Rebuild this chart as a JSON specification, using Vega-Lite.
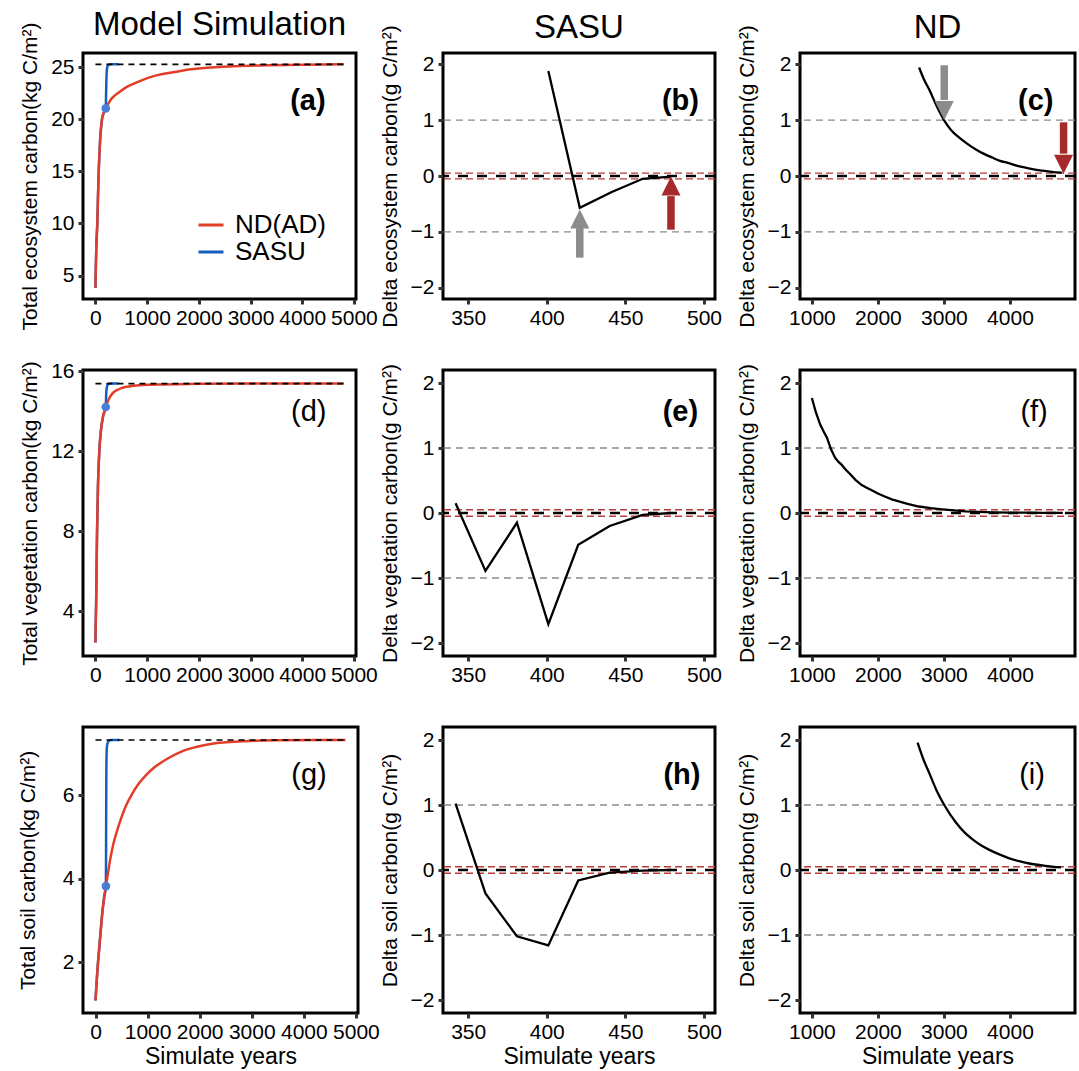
{
  "$schema": "https://vega.github.io/schema/vega-lite/v6.json",
  "padding": {"left": 15, "top": 7, "right": 5, "bottom": 3},
  "background": "white",
  "datasets": {
    "sim": [
      {"pool": "eco", "run": "ND(AD)", "year": 0, "value": 3.82},
      {"pool": "eco", "run": "ND(AD)", "year": 10, "value": 6.2},
      {"pool": "eco", "run": "ND(AD)", "year": 20, "value": 8.1},
      {"pool": "eco", "run": "ND(AD)", "year": 38, "value": 10.2},
      {"pool": "eco", "run": "ND(AD)", "year": 50, "value": 12.6},
      {"pool": "eco", "run": "ND(AD)", "year": 64, "value": 15.0},
      {"pool": "eco", "run": "ND(AD)", "year": 90, "value": 17.9},
      {"pool": "eco", "run": "ND(AD)", "year": 127, "value": 20.0},
      {"pool": "eco", "run": "ND(AD)", "year": 160, "value": 20.6},
      {"pool": "eco", "run": "ND(AD)", "year": 200, "value": 21.05},
      {"pool": "eco", "run": "ND(AD)", "year": 300, "value": 21.9},
      {"pool": "eco", "run": "ND(AD)", "year": 459, "value": 22.6},
      {"pool": "eco", "run": "ND(AD)", "year": 600, "value": 23.1},
      {"pool": "eco", "run": "ND(AD)", "year": 777, "value": 23.5},
      {"pool": "eco", "run": "ND(AD)", "year": 1096, "value": 24.1},
      {"pool": "eco", "run": "ND(AD)", "year": 1414, "value": 24.45},
      {"pool": "eco", "run": "ND(AD)", "year": 1700, "value": 24.7},
      {"pool": "eco", "run": "ND(AD)", "year": 2051, "value": 24.9},
      {"pool": "eco", "run": "ND(AD)", "year": 2688, "value": 25.1},
      {"pool": "eco", "run": "ND(AD)", "year": 3325, "value": 25.2},
      {"pool": "eco", "run": "ND(AD)", "year": 4000, "value": 25.25},
      {"pool": "eco", "run": "ND(AD)", "year": 4800, "value": 25.28},
      {"pool": "eco", "run": "SASU", "year": 0, "value": 3.82},
      {"pool": "eco", "run": "SASU", "year": 10, "value": 6.2},
      {"pool": "eco", "run": "SASU", "year": 20, "value": 8.1},
      {"pool": "eco", "run": "SASU", "year": 38, "value": 10.2},
      {"pool": "eco", "run": "SASU", "year": 50, "value": 12.6},
      {"pool": "eco", "run": "SASU", "year": 64, "value": 15.0},
      {"pool": "eco", "run": "SASU", "year": 90, "value": 17.9},
      {"pool": "eco", "run": "SASU", "year": 127, "value": 20.0},
      {"pool": "eco", "run": "SASU", "year": 160, "value": 20.6},
      {"pool": "eco", "run": "SASU", "year": 200, "value": 21.05},
      {"pool": "eco", "run": "SASU", "year": 208, "value": 22.8},
      {"pool": "eco", "run": "SASU", "year": 216, "value": 24.3},
      {"pool": "eco", "run": "SASU", "year": 228, "value": 25.0},
      {"pool": "eco", "run": "SASU", "year": 250, "value": 25.22},
      {"pool": "eco", "run": "SASU", "year": 290, "value": 25.28},
      {"pool": "eco", "run": "SASU", "year": 446, "value": 25.28},
      {"pool": "veg", "run": "ND(AD)", "year": 0, "value": 2.43},
      {"pool": "veg", "run": "ND(AD)", "year": 5, "value": 3.3},
      {"pool": "veg", "run": "ND(AD)", "year": 13, "value": 4.2},
      {"pool": "veg", "run": "ND(AD)", "year": 22, "value": 6.0},
      {"pool": "veg", "run": "ND(AD)", "year": 32, "value": 8.0},
      {"pool": "veg", "run": "ND(AD)", "year": 50, "value": 10.3},
      {"pool": "veg", "run": "ND(AD)", "year": 76, "value": 12.0},
      {"pool": "veg", "run": "ND(AD)", "year": 110, "value": 13.1},
      {"pool": "veg", "run": "ND(AD)", "year": 150, "value": 13.75},
      {"pool": "veg", "run": "ND(AD)", "year": 200, "value": 14.2},
      {"pool": "veg", "run": "ND(AD)", "year": 260, "value": 14.6},
      {"pool": "veg", "run": "ND(AD)", "year": 331, "value": 14.88},
      {"pool": "veg", "run": "ND(AD)", "year": 420, "value": 15.05},
      {"pool": "veg", "run": "ND(AD)", "year": 522, "value": 15.16},
      {"pool": "veg", "run": "ND(AD)", "year": 700, "value": 15.25},
      {"pool": "veg", "run": "ND(AD)", "year": 904, "value": 15.3},
      {"pool": "veg", "run": "ND(AD)", "year": 1300, "value": 15.33},
      {"pool": "veg", "run": "ND(AD)", "year": 2051, "value": 15.36},
      {"pool": "veg", "run": "ND(AD)", "year": 3000, "value": 15.37},
      {"pool": "veg", "run": "ND(AD)", "year": 4800, "value": 15.37},
      {"pool": "veg", "run": "SASU", "year": 0, "value": 2.43},
      {"pool": "veg", "run": "SASU", "year": 5, "value": 3.3},
      {"pool": "veg", "run": "SASU", "year": 13, "value": 4.2},
      {"pool": "veg", "run": "SASU", "year": 22, "value": 6.0},
      {"pool": "veg", "run": "SASU", "year": 32, "value": 8.0},
      {"pool": "veg", "run": "SASU", "year": 50, "value": 10.3},
      {"pool": "veg", "run": "SASU", "year": 76, "value": 12.0},
      {"pool": "veg", "run": "SASU", "year": 110, "value": 13.1},
      {"pool": "veg", "run": "SASU", "year": 150, "value": 13.75},
      {"pool": "veg", "run": "SASU", "year": 200, "value": 14.2},
      {"pool": "veg", "run": "SASU", "year": 208, "value": 14.8},
      {"pool": "veg", "run": "SASU", "year": 218, "value": 15.15},
      {"pool": "veg", "run": "SASU", "year": 240, "value": 15.32},
      {"pool": "veg", "run": "SASU", "year": 280, "value": 15.37},
      {"pool": "veg", "run": "SASU", "year": 446, "value": 15.37},
      {"pool": "soil", "run": "ND(AD)", "year": 0, "value": 1.09},
      {"pool": "soil", "run": "ND(AD)", "year": 20, "value": 1.5},
      {"pool": "soil", "run": "ND(AD)", "year": 45, "value": 1.95},
      {"pool": "soil", "run": "ND(AD)", "year": 73, "value": 2.36},
      {"pool": "soil", "run": "ND(AD)", "year": 104, "value": 2.82},
      {"pool": "soil", "run": "ND(AD)", "year": 134, "value": 3.23},
      {"pool": "soil", "run": "ND(AD)", "year": 165, "value": 3.55},
      {"pool": "soil", "run": "ND(AD)", "year": 200, "value": 3.83},
      {"pool": "soil", "run": "ND(AD)", "year": 240, "value": 4.15},
      {"pool": "soil", "run": "ND(AD)", "year": 287, "value": 4.5},
      {"pool": "soil", "run": "ND(AD)", "year": 345, "value": 4.85},
      {"pool": "soil", "run": "ND(AD)", "year": 408, "value": 5.13},
      {"pool": "soil", "run": "ND(AD)", "year": 500, "value": 5.48},
      {"pool": "soil", "run": "ND(AD)", "year": 591, "value": 5.77},
      {"pool": "soil", "run": "ND(AD)", "year": 700, "value": 6.03},
      {"pool": "soil", "run": "ND(AD)", "year": 835, "value": 6.29},
      {"pool": "soil", "run": "ND(AD)", "year": 980, "value": 6.5},
      {"pool": "soil", "run": "ND(AD)", "year": 1139, "value": 6.68},
      {"pool": "soil", "run": "ND(AD)", "year": 1380, "value": 6.88},
      {"pool": "soil", "run": "ND(AD)", "year": 1627, "value": 7.04},
      {"pool": "soil", "run": "ND(AD)", "year": 1930, "value": 7.16},
      {"pool": "soil", "run": "ND(AD)", "year": 2236, "value": 7.24},
      {"pool": "soil", "run": "ND(AD)", "year": 2846, "value": 7.3},
      {"pool": "soil", "run": "ND(AD)", "year": 3455, "value": 7.32},
      {"pool": "soil", "run": "ND(AD)", "year": 4800, "value": 7.33},
      {"pool": "soil", "run": "SASU", "year": 0, "value": 1.09},
      {"pool": "soil", "run": "SASU", "year": 20, "value": 1.5},
      {"pool": "soil", "run": "SASU", "year": 45, "value": 1.95},
      {"pool": "soil", "run": "SASU", "year": 73, "value": 2.36},
      {"pool": "soil", "run": "SASU", "year": 104, "value": 2.82},
      {"pool": "soil", "run": "SASU", "year": 134, "value": 3.23},
      {"pool": "soil", "run": "SASU", "year": 165, "value": 3.55},
      {"pool": "soil", "run": "SASU", "year": 200, "value": 3.83},
      {"pool": "soil", "run": "SASU", "year": 204, "value": 5.2},
      {"pool": "soil", "run": "SASU", "year": 208, "value": 6.5},
      {"pool": "soil", "run": "SASU", "year": 214, "value": 7.05},
      {"pool": "soil", "run": "SASU", "year": 225, "value": 7.22},
      {"pool": "soil", "run": "SASU", "year": 250, "value": 7.3},
      {"pool": "soil", "run": "SASU", "year": 300, "value": 7.33},
      {"pool": "soil", "run": "SASU", "year": 457, "value": 7.33}
    ],
    "ss": [
      {"pool": "eco", "year": 0, "year2": 4800, "value": 25.28},
      {"pool": "veg", "year": 0, "year2": 4800, "value": 15.37},
      {"pool": "soil", "year": 0, "year2": 4800, "value": 7.33}
    ],
    "spin": [
      {"pool": "eco", "year": 200, "value": 21.05},
      {"pool": "veg", "year": 200, "value": 14.2},
      {"pool": "soil", "year": 200, "value": 3.83}
    ],
    "lab": [
      {"panel": "a", "text": "(a)", "year": 4110, "value": 21.76},
      {"panel": "b", "text": "(b)", "year": 485, "value": 1.34},
      {"panel": "c", "text": "(c)", "year": 4390, "value": 1.34},
      {"panel": "d", "text": "(d)", "year": 4125, "value": 13.95},
      {"panel": "e", "text": "(e)", "year": 485, "value": 1.55},
      {"panel": "f", "text": "(f)", "year": 4365, "value": 1.55},
      {"panel": "g", "text": "(g)", "year": 4100, "value": 6.49},
      {"panel": "h", "text": "(h)", "year": 486, "value": 1.46},
      {"panel": "i", "text": "(i)", "year": 4335, "value": 1.46}
    ],
    "hl": [
      {"kind": "grey", "value": 1},
      {"kind": "grey", "value": -1},
      {"kind": "red", "value": 0.05},
      {"kind": "red", "value": -0.05},
      {"kind": "black", "value": 0}
    ],
    "arrows": [
      {"panel": "b", "stage": "first", "part": "shaft", "year": 421, "value": -1.46, "value2": -0.93},
      {"panel": "b", "stage": "first", "part": "head", "year": 421, "value": -0.6},
      {"panel": "b", "stage": "final", "part": "shaft", "year": 479, "value": -0.96, "value2": -0.36},
      {"panel": "b", "stage": "final", "part": "head", "year": 479, "value": -0.01},
      {"panel": "c", "stage": "first", "part": "shaft", "year": 3005, "value": 1.98, "value2": 1.36},
      {"panel": "c", "stage": "first", "part": "head", "year": 3005, "value": 1.0},
      {"panel": "c", "stage": "final", "part": "shaft", "year": 4812, "value": 0.96, "value2": 0.4},
      {"panel": "c", "stage": "final", "part": "head", "year": 4812, "value": 0.04}
    ],
    "delta": [
      {"panel": "b", "year": 401, "value": 1.88},
      {"panel": "b", "year": 421, "value": -0.57},
      {"panel": "b", "year": 441, "value": -0.29},
      {"panel": "b", "year": 461, "value": -0.05},
      {"panel": "b", "year": 479, "value": -0.01},
      {"panel": "c", "year": 2624, "value": 1.94},
      {"panel": "c", "year": 2700, "value": 1.72},
      {"panel": "c", "year": 2775, "value": 1.55},
      {"panel": "c", "year": 2890, "value": 1.25},
      {"panel": "c", "year": 3001, "value": 1.0},
      {"panel": "c", "year": 3110, "value": 0.82},
      {"panel": "c", "year": 3228, "value": 0.69},
      {"panel": "c", "year": 3350, "value": 0.58},
      {"panel": "c", "year": 3478, "value": 0.48},
      {"panel": "c", "year": 3600, "value": 0.4},
      {"panel": "c", "year": 3730, "value": 0.33},
      {"panel": "c", "year": 3850, "value": 0.27},
      {"panel": "c", "year": 3982, "value": 0.23},
      {"panel": "c", "year": 4100, "value": 0.185},
      {"panel": "c", "year": 4232, "value": 0.15},
      {"panel": "c", "year": 4360, "value": 0.12},
      {"panel": "c", "year": 4484, "value": 0.096},
      {"panel": "c", "year": 4630, "value": 0.075},
      {"panel": "c", "year": 4786, "value": 0.06},
      {"panel": "e", "year": 342, "value": 0.15},
      {"panel": "e", "year": 361, "value": -0.89},
      {"panel": "e", "year": 381, "value": -0.15},
      {"panel": "e", "year": 401, "value": -1.71},
      {"panel": "e", "year": 420, "value": -0.49},
      {"panel": "e", "year": 440, "value": -0.2},
      {"panel": "e", "year": 461, "value": -0.03},
      {"panel": "e", "year": 479, "value": 0.0},
      {"panel": "f", "year": 1000, "value": 1.77},
      {"panel": "f", "year": 1060, "value": 1.55},
      {"panel": "f", "year": 1126, "value": 1.36},
      {"panel": "f", "year": 1180, "value": 1.25},
      {"panel": "f", "year": 1228, "value": 1.16},
      {"panel": "f", "year": 1290, "value": 0.98},
      {"panel": "f", "year": 1351, "value": 0.85},
      {"panel": "f", "year": 1400, "value": 0.79},
      {"panel": "f", "year": 1452, "value": 0.74},
      {"panel": "f", "year": 1510, "value": 0.67},
      {"panel": "f", "year": 1578, "value": 0.6},
      {"panel": "f", "year": 1660, "value": 0.51},
      {"panel": "f", "year": 1755, "value": 0.43},
      {"panel": "f", "year": 1830, "value": 0.39},
      {"panel": "f", "year": 1907, "value": 0.35},
      {"panel": "f", "year": 2000, "value": 0.3},
      {"panel": "f", "year": 2113, "value": 0.25},
      {"panel": "f", "year": 2210, "value": 0.21},
      {"panel": "f", "year": 2315, "value": 0.18},
      {"panel": "f", "year": 2450, "value": 0.14},
      {"panel": "f", "year": 2619, "value": 0.1},
      {"panel": "f", "year": 2800, "value": 0.075},
      {"panel": "f", "year": 2973, "value": 0.056},
      {"panel": "f", "year": 3150, "value": 0.04},
      {"panel": "f", "year": 3327, "value": 0.025},
      {"panel": "f", "year": 3530, "value": 0.016},
      {"panel": "f", "year": 3731, "value": 0.01},
      {"panel": "f", "year": 4000, "value": 0.007},
      {"panel": "f", "year": 4237, "value": 0.005},
      {"panel": "f", "year": 4500, "value": 0.003},
      {"panel": "f", "year": 4800, "value": 0.002},
      {"panel": "h", "year": 342, "value": 1.02},
      {"panel": "h", "year": 361, "value": -0.36},
      {"panel": "h", "year": 381, "value": -1.02},
      {"panel": "h", "year": 401, "value": -1.16},
      {"panel": "h", "year": 420, "value": -0.16},
      {"panel": "h", "year": 440, "value": -0.04},
      {"panel": "h", "year": 461, "value": -0.01},
      {"panel": "h", "year": 479, "value": 0.0},
      {"panel": "i", "year": 2601, "value": 1.96},
      {"panel": "i", "year": 2690, "value": 1.7},
      {"panel": "i", "year": 2778, "value": 1.49},
      {"panel": "i", "year": 2890, "value": 1.22},
      {"panel": "i", "year": 3005, "value": 1.0},
      {"panel": "i", "year": 3182, "value": 0.73},
      {"panel": "i", "year": 3300, "value": 0.59},
      {"panel": "i", "year": 3434, "value": 0.47},
      {"panel": "i", "year": 3560, "value": 0.38},
      {"panel": "i", "year": 3687, "value": 0.31},
      {"panel": "i", "year": 3840, "value": 0.24},
      {"panel": "i", "year": 3990, "value": 0.18},
      {"panel": "i", "year": 4140, "value": 0.135},
      {"panel": "i", "year": 4293, "value": 0.1},
      {"panel": "i", "year": 4530, "value": 0.065},
      {"panel": "i", "year": 4773, "value": 0.04}
    ]
  },
  "columns": 3,
  "spacing": {"row": 71, "column": 85},
  "bounds": "flush",
  "align": "each",
  "concat": [
    {
      "width": 273, "height": 246,
      "title": {"text": "Model Simulation"},
      "layer": [
        {"data": {"name": "sim"}, "transform": [{"filter": "datum.pool === 'eco' && datum.run === 'SASU'"}],
         "mark": {"type": "line", "strokeWidth": 2.5, "interpolate": "monotone"},
         "encoding": {
           "x": {"field": "year", "type": "quantitative", "title": null, "scale": {"domain": [-240, 5040], "nice": false, "zero": false}, "axis": {"values": [0, 1000, 2000, 3000, 4000, 5000], "format": "d"}},
           "y": {"field": "value", "type": "quantitative", "title": "Total ecosystem carbon(kg C/m²)", "scale": {"domain": [2.75, 26.37], "nice": false, "zero": false}, "axis": {"values": [5, 10, 15, 20, 25], "format": "d"}},
           "color": {"field": "run", "type": "nominal", "scale": {"domain": ["ND(AD)", "SASU"], "range": ["#E23D28", "#145FBE"]},
             "legend": {"orient": "none", "legendX": 114, "legendY": 158, "title": null, "symbolType": "stroke", "symbolSize": 625, "symbolStrokeWidth": 3, "labelFontSize": 26, "labelOffset": 10, "rowPadding": -5, "padding": 0, "labelColor": "black"}}
         }},
        {"data": {"name": "sim"}, "transform": [{"filter": "datum.pool === 'eco' && datum.run === 'ND(AD)'"}],
         "mark": {"type": "line", "strokeWidth": 2.5, "interpolate": "monotone"},
         "encoding": {
           "x": {"field": "year", "type": "quantitative", "title": null, "scale": {"domain": [-240, 5040], "nice": false, "zero": false}, "axis": {"values": [0, 1000, 2000, 3000, 4000, 5000], "format": "d"}},
           "y": {"field": "value", "type": "quantitative", "title": "Total ecosystem carbon(kg C/m²)", "scale": {"domain": [2.75, 26.37], "nice": false, "zero": false}, "axis": {"values": [5, 10, 15, 20, 25], "format": "d"}},
           "color": {"field": "run", "type": "nominal", "scale": {"domain": ["ND(AD)", "SASU"], "range": ["#E23D28", "#145FBE"]},
             "legend": {"orient": "none", "legendX": 114, "legendY": 158, "title": null, "symbolType": "stroke", "symbolSize": 625, "symbolStrokeWidth": 3, "labelFontSize": 26, "labelOffset": 10, "rowPadding": -5, "padding": 0, "labelColor": "black"}}
         }},
        {"data": {"name": "ss"}, "transform": [{"filter": "datum.pool === 'eco'"}],
         "mark": {"type": "rule", "color": "black", "strokeWidth": 1.6, "strokeDash": [6, 5]},
         "encoding": {
           "x": {"field": "year", "type": "quantitative", "title": null, "scale": {"domain": [-240, 5040], "nice": false, "zero": false}, "axis": {"values": [0, 1000, 2000, 3000, 4000, 5000], "format": "d"}},
           "x2": {"field": "year2"},
           "y": {"field": "value", "type": "quantitative", "title": "Total ecosystem carbon(kg C/m²)", "scale": {"domain": [2.75, 26.37], "nice": false, "zero": false}, "axis": {"values": [5, 10, 15, 20, 25], "format": "d"}}
         }},
        {"data": {"name": "spin"}, "transform": [{"filter": "datum.pool === 'eco'"}],
         "mark": {"type": "point", "shape": "circle", "filled": true, "size": 75, "color": "#4A7DD6", "opacity": 1},
         "encoding": {
           "x": {"field": "year", "type": "quantitative", "title": null, "scale": {"domain": [-240, 5040], "nice": false, "zero": false}, "axis": {"values": [0, 1000, 2000, 3000, 4000, 5000], "format": "d"}},
           "y": {"field": "value", "type": "quantitative", "title": "Total ecosystem carbon(kg C/m²)", "scale": {"domain": [2.75, 26.37], "nice": false, "zero": false}, "axis": {"values": [5, 10, 15, 20, 25], "format": "d"}}
         }},
        {"data": {"name": "lab"}, "transform": [{"filter": "datum.panel === 'a'"}],
         "mark": {"type": "text", "fontSize": 29, "fontWeight": "bold", "color": "black", "align": "center", "baseline": "middle"},
         "encoding": {
           "x": {"field": "year", "type": "quantitative", "title": null, "scale": {"domain": [-240, 5040], "nice": false, "zero": false}, "axis": {"values": [0, 1000, 2000, 3000, 4000, 5000], "format": "d"}},
           "y": {"field": "value", "type": "quantitative", "title": "Total ecosystem carbon(kg C/m²)", "scale": {"domain": [2.75, 26.37], "nice": false, "zero": false}, "axis": {"values": [5, 10, 15, 20, 25], "format": "d"}},
           "text": {"field": "text"}
         }}
      ]
    },
    {
      "width": 272, "height": 246,
      "title": {"text": "SASU"},
      "layer": [
        {"data": {"name": "hl"}, "transform": [{"filter": "datum.kind === 'grey'"}],
         "mark": {"type": "rule", "color": "#8c8c8c", "strokeWidth": 1.3, "strokeDash": [7, 5]},
         "encoding": {"y": {"field": "value", "type": "quantitative", "title": "Delta ecosystem carbon(g C/m²)", "scale": {"domain": [-2.2, 2.2], "nice": false, "zero": false}, "axis": {"values": [-2, -1, 0, 1, 2], "format": "d"}}}},
        {"data": {"name": "hl"}, "transform": [{"filter": "datum.kind === 'red'"}],
         "mark": {"type": "rule", "color": "#B83A3A", "strokeWidth": 1.3, "strokeDash": [7, 4]},
         "encoding": {"y": {"field": "value", "type": "quantitative", "title": "Delta ecosystem carbon(g C/m²)", "scale": {"domain": [-2.2, 2.2], "nice": false, "zero": false}, "axis": {"values": [-2, -1, 0, 1, 2], "format": "d"}}}},
        {"data": {"name": "hl"}, "transform": [{"filter": "datum.kind === 'black'"}],
         "mark": {"type": "rule", "color": "black", "strokeWidth": 2.4, "strokeDash": [10, 9]},
         "encoding": {"y": {"field": "value", "type": "quantitative", "title": "Delta ecosystem carbon(g C/m²)", "scale": {"domain": [-2.2, 2.2], "nice": false, "zero": false}, "axis": {"values": [-2, -1, 0, 1, 2], "format": "d"}}}},
        {"data": {"name": "delta"}, "transform": [{"filter": "datum.panel === 'b'"}],
         "mark": {"type": "line", "color": "black", "strokeWidth": 2.3},
         "encoding": {
           "x": {"field": "year", "type": "quantitative", "title": null, "scale": {"domain": [334, 507], "nice": false, "zero": false}, "axis": {"values": [350, 400, 450, 500], "format": "d"}},
           "y": {"field": "value", "type": "quantitative", "title": "Delta ecosystem carbon(g C/m²)", "scale": {"domain": [-2.2, 2.2], "nice": false, "zero": false}, "axis": {"values": [-2, -1, 0, 1, 2], "format": "d"}}
         }},
        {"data": {"name": "arrows"}, "transform": [{"filter": "datum.panel === 'b' && datum.part === 'shaft' && datum.stage === 'first'"}],
         "mark": {"type": "rule", "strokeWidth": 7.5, "color": "#8c8c8c"},
         "encoding": {
           "x": {"field": "year", "type": "quantitative", "title": null, "scale": {"domain": [334, 507], "nice": false, "zero": false}, "axis": {"values": [350, 400, 450, 500], "format": "d"}},
           "y": {"field": "value", "type": "quantitative", "title": "Delta ecosystem carbon(g C/m²)", "scale": {"domain": [-2.2, 2.2], "nice": false, "zero": false}, "axis": {"values": [-2, -1, 0, 1, 2], "format": "d"}},
           "y2": {"field": "value2"}
         }},
        {"data": {"name": "arrows"}, "transform": [{"filter": "datum.panel === 'b' && datum.part === 'shaft' && datum.stage === 'final'"}],
         "mark": {"type": "rule", "strokeWidth": 7.5, "color": "#A52A2A"},
         "encoding": {
           "x": {"field": "year", "type": "quantitative", "title": null, "scale": {"domain": [334, 507], "nice": false, "zero": false}, "axis": {"values": [350, 400, 450, 500], "format": "d"}},
           "y": {"field": "value", "type": "quantitative", "title": "Delta ecosystem carbon(g C/m²)", "scale": {"domain": [-2.2, 2.2], "nice": false, "zero": false}, "axis": {"values": [-2, -1, 0, 1, 2], "format": "d"}},
           "y2": {"field": "value2"}
         }},
        {"data": {"name": "arrows"}, "transform": [{"filter": "datum.panel === 'b' && datum.part === 'head' && datum.stage === 'first'"}],
         "mark": {"type": "point", "shape": "M0,0L-1,2L1,2Z", "filled": true, "size": 361, "opacity": 1, "color": "#8c8c8c"},
         "encoding": {
           "x": {"field": "year", "type": "quantitative", "title": null, "scale": {"domain": [334, 507], "nice": false, "zero": false}, "axis": {"values": [350, 400, 450, 500], "format": "d"}},
           "y": {"field": "value", "type": "quantitative", "title": "Delta ecosystem carbon(g C/m²)", "scale": {"domain": [-2.2, 2.2], "nice": false, "zero": false}, "axis": {"values": [-2, -1, 0, 1, 2], "format": "d"}}
         }},
        {"data": {"name": "arrows"}, "transform": [{"filter": "datum.panel === 'b' && datum.part === 'head' && datum.stage === 'final'"}],
         "mark": {"type": "point", "shape": "M0,0L-1,2L1,2Z", "filled": true, "size": 361, "opacity": 1, "color": "#A52A2A"},
         "encoding": {
           "x": {"field": "year", "type": "quantitative", "title": null, "scale": {"domain": [334, 507], "nice": false, "zero": false}, "axis": {"values": [350, 400, 450, 500], "format": "d"}},
           "y": {"field": "value", "type": "quantitative", "title": "Delta ecosystem carbon(g C/m²)", "scale": {"domain": [-2.2, 2.2], "nice": false, "zero": false}, "axis": {"values": [-2, -1, 0, 1, 2], "format": "d"}}
         }},
        {"data": {"name": "lab"}, "transform": [{"filter": "datum.panel === 'b'"}],
         "mark": {"type": "text", "fontSize": 29, "fontWeight": "bold", "color": "black", "align": "center", "baseline": "middle"},
         "encoding": {
           "x": {"field": "year", "type": "quantitative", "title": null, "scale": {"domain": [334, 507], "nice": false, "zero": false}, "axis": {"values": [350, 400, 450, 500], "format": "d"}},
           "y": {"field": "value", "type": "quantitative", "title": "Delta ecosystem carbon(g C/m²)", "scale": {"domain": [-2.2, 2.2], "nice": false, "zero": false}, "axis": {"values": [-2, -1, 0, 1, 2], "format": "d"}},
           "text": {"field": "text"}
         }}
      ]
    },
    {
      "width": 275, "height": 246,
      "title": {"text": "ND"},
      "layer": [
        {"data": {"name": "hl"}, "transform": [{"filter": "datum.kind === 'grey'"}],
         "mark": {"type": "rule", "color": "#8c8c8c", "strokeWidth": 1.3, "strokeDash": [7, 5]},
         "encoding": {"y": {"field": "value", "type": "quantitative", "title": "Delta ecosystem carbon(g C/m²)", "scale": {"domain": [-2.2, 2.2], "nice": false, "zero": false}, "axis": {"values": [-2, -1, 0, 1, 2], "format": "d"}}}},
        {"data": {"name": "hl"}, "transform": [{"filter": "datum.kind === 'red'"}],
         "mark": {"type": "rule", "color": "#B83A3A", "strokeWidth": 1.3, "strokeDash": [7, 4]},
         "encoding": {"y": {"field": "value", "type": "quantitative", "title": "Delta ecosystem carbon(g C/m²)", "scale": {"domain": [-2.2, 2.2], "nice": false, "zero": false}, "axis": {"values": [-2, -1, 0, 1, 2], "format": "d"}}}},
        {"data": {"name": "hl"}, "transform": [{"filter": "datum.kind === 'black'"}],
         "mark": {"type": "rule", "color": "black", "strokeWidth": 2.4, "strokeDash": [10, 9]},
         "encoding": {"y": {"field": "value", "type": "quantitative", "title": "Delta ecosystem carbon(g C/m²)", "scale": {"domain": [-2.2, 2.2], "nice": false, "zero": false}, "axis": {"values": [-2, -1, 0, 1, 2], "format": "d"}}}},
        {"data": {"name": "delta"}, "transform": [{"filter": "datum.panel === 'c'"}],
         "mark": {"type": "line", "color": "black", "strokeWidth": 2.3, "interpolate": "monotone"},
         "encoding": {
           "x": {"field": "year", "type": "quantitative", "title": null, "scale": {"domain": [820, 4985], "nice": false, "zero": false}, "axis": {"values": [1000, 2000, 3000, 4000], "format": "d"}},
           "y": {"field": "value", "type": "quantitative", "title": "Delta ecosystem carbon(g C/m²)", "scale": {"domain": [-2.2, 2.2], "nice": false, "zero": false}, "axis": {"values": [-2, -1, 0, 1, 2], "format": "d"}}
         }},
        {"data": {"name": "arrows"}, "transform": [{"filter": "datum.panel === 'c' && datum.part === 'shaft' && datum.stage === 'first'"}],
         "mark": {"type": "rule", "strokeWidth": 7.5, "color": "#8c8c8c"},
         "encoding": {
           "x": {"field": "year", "type": "quantitative", "title": null, "scale": {"domain": [820, 4985], "nice": false, "zero": false}, "axis": {"values": [1000, 2000, 3000, 4000], "format": "d"}},
           "y": {"field": "value", "type": "quantitative", "title": "Delta ecosystem carbon(g C/m²)", "scale": {"domain": [-2.2, 2.2], "nice": false, "zero": false}, "axis": {"values": [-2, -1, 0, 1, 2], "format": "d"}},
           "y2": {"field": "value2"}
         }},
        {"data": {"name": "arrows"}, "transform": [{"filter": "datum.panel === 'c' && datum.part === 'shaft' && datum.stage === 'final'"}],
         "mark": {"type": "rule", "strokeWidth": 7.5, "color": "#A52A2A"},
         "encoding": {
           "x": {"field": "year", "type": "quantitative", "title": null, "scale": {"domain": [820, 4985], "nice": false, "zero": false}, "axis": {"values": [1000, 2000, 3000, 4000], "format": "d"}},
           "y": {"field": "value", "type": "quantitative", "title": "Delta ecosystem carbon(g C/m²)", "scale": {"domain": [-2.2, 2.2], "nice": false, "zero": false}, "axis": {"values": [-2, -1, 0, 1, 2], "format": "d"}},
           "y2": {"field": "value2"}
         }},
        {"data": {"name": "arrows"}, "transform": [{"filter": "datum.panel === 'c' && datum.part === 'head' && datum.stage === 'first'"}],
         "mark": {"type": "point", "shape": "M0,0L-1,-2L1,-2Z", "filled": true, "size": 361, "opacity": 1, "color": "#8c8c8c"},
         "encoding": {
           "x": {"field": "year", "type": "quantitative", "title": null, "scale": {"domain": [820, 4985], "nice": false, "zero": false}, "axis": {"values": [1000, 2000, 3000, 4000], "format": "d"}},
           "y": {"field": "value", "type": "quantitative", "title": "Delta ecosystem carbon(g C/m²)", "scale": {"domain": [-2.2, 2.2], "nice": false, "zero": false}, "axis": {"values": [-2, -1, 0, 1, 2], "format": "d"}}
         }},
        {"data": {"name": "arrows"}, "transform": [{"filter": "datum.panel === 'c' && datum.part === 'head' && datum.stage === 'final'"}],
         "mark": {"type": "point", "shape": "M0,0L-1,-2L1,-2Z", "filled": true, "size": 361, "opacity": 1, "color": "#A52A2A"},
         "encoding": {
           "x": {"field": "year", "type": "quantitative", "title": null, "scale": {"domain": [820, 4985], "nice": false, "zero": false}, "axis": {"values": [1000, 2000, 3000, 4000], "format": "d"}},
           "y": {"field": "value", "type": "quantitative", "title": "Delta ecosystem carbon(g C/m²)", "scale": {"domain": [-2.2, 2.2], "nice": false, "zero": false}, "axis": {"values": [-2, -1, 0, 1, 2], "format": "d"}}
         }},
        {"data": {"name": "lab"}, "transform": [{"filter": "datum.panel === 'c'"}],
         "mark": {"type": "text", "fontSize": 29, "fontWeight": "bold", "color": "black", "align": "center", "baseline": "middle"},
         "encoding": {
           "x": {"field": "year", "type": "quantitative", "title": null, "scale": {"domain": [820, 4985], "nice": false, "zero": false}, "axis": {"values": [1000, 2000, 3000, 4000], "format": "d"}},
           "y": {"field": "value", "type": "quantitative", "title": "Delta ecosystem carbon(g C/m²)", "scale": {"domain": [-2.2, 2.2], "nice": false, "zero": false}, "axis": {"values": [-2, -1, 0, 1, 2], "format": "d"}},
           "text": {"field": "text"}
         }}
      ]
    },
    {
      "width": 273, "height": 286,
      "layer": [
        {"data": {"name": "sim"}, "transform": [{"filter": "datum.pool === 'veg' && datum.run === 'SASU'"}],
         "mark": {"type": "line", "strokeWidth": 2.5, "interpolate": "monotone"},
         "encoding": {
           "x": {"field": "year", "type": "quantitative", "title": null, "scale": {"domain": [-240, 5040], "nice": false, "zero": false}, "axis": {"values": [0, 1000, 2000, 3000, 4000, 5000], "format": "d"}},
           "y": {"field": "value", "type": "quantitative", "title": "Total vegetation carbon(kg C/m²)", "scale": {"domain": [1.75, 16.05], "nice": false, "zero": false}, "axis": {"values": [4, 8, 12, 16], "format": "d"}},
           "color": {"field": "run", "type": "nominal", "scale": {"domain": ["ND(AD)", "SASU"], "range": ["#E23D28", "#145FBE"]}, "legend": null}
         }},
        {"data": {"name": "sim"}, "transform": [{"filter": "datum.pool === 'veg' && datum.run === 'ND(AD)'"}],
         "mark": {"type": "line", "strokeWidth": 2.5, "interpolate": "monotone"},
         "encoding": {
           "x": {"field": "year", "type": "quantitative", "title": null, "scale": {"domain": [-240, 5040], "nice": false, "zero": false}, "axis": {"values": [0, 1000, 2000, 3000, 4000, 5000], "format": "d"}},
           "y": {"field": "value", "type": "quantitative", "title": "Total vegetation carbon(kg C/m²)", "scale": {"domain": [1.75, 16.05], "nice": false, "zero": false}, "axis": {"values": [4, 8, 12, 16], "format": "d"}},
           "color": {"field": "run", "type": "nominal", "scale": {"domain": ["ND(AD)", "SASU"], "range": ["#E23D28", "#145FBE"]}, "legend": null}
         }},
        {"data": {"name": "ss"}, "transform": [{"filter": "datum.pool === 'veg'"}],
         "mark": {"type": "rule", "color": "black", "strokeWidth": 1.6, "strokeDash": [6, 5]},
         "encoding": {
           "x": {"field": "year", "type": "quantitative", "title": null, "scale": {"domain": [-240, 5040], "nice": false, "zero": false}, "axis": {"values": [0, 1000, 2000, 3000, 4000, 5000], "format": "d"}},
           "x2": {"field": "year2"},
           "y": {"field": "value", "type": "quantitative", "title": "Total vegetation carbon(kg C/m²)", "scale": {"domain": [1.75, 16.05], "nice": false, "zero": false}, "axis": {"values": [4, 8, 12, 16], "format": "d"}}
         }},
        {"data": {"name": "spin"}, "transform": [{"filter": "datum.pool === 'veg'"}],
         "mark": {"type": "point", "shape": "circle", "filled": true, "size": 75, "color": "#4A7DD6", "opacity": 1},
         "encoding": {
           "x": {"field": "year", "type": "quantitative", "title": null, "scale": {"domain": [-240, 5040], "nice": false, "zero": false}, "axis": {"values": [0, 1000, 2000, 3000, 4000, 5000], "format": "d"}},
           "y": {"field": "value", "type": "quantitative", "title": "Total vegetation carbon(kg C/m²)", "scale": {"domain": [1.75, 16.05], "nice": false, "zero": false}, "axis": {"values": [4, 8, 12, 16], "format": "d"}}
         }},
        {"data": {"name": "lab"}, "transform": [{"filter": "datum.panel === 'd'"}],
         "mark": {"type": "text", "fontSize": 29, "fontWeight": "normal", "color": "black", "align": "center", "baseline": "middle"},
         "encoding": {
           "x": {"field": "year", "type": "quantitative", "title": null, "scale": {"domain": [-240, 5040], "nice": false, "zero": false}, "axis": {"values": [0, 1000, 2000, 3000, 4000, 5000], "format": "d"}},
           "y": {"field": "value", "type": "quantitative", "title": "Total vegetation carbon(kg C/m²)", "scale": {"domain": [1.75, 16.05], "nice": false, "zero": false}, "axis": {"values": [4, 8, 12, 16], "format": "d"}},
           "text": {"field": "text"}
         }}
      ]
    },
    {
      "width": 272, "height": 286,
      "layer": [
        {"data": {"name": "hl"}, "transform": [{"filter": "datum.kind === 'grey'"}],
         "mark": {"type": "rule", "color": "#8c8c8c", "strokeWidth": 1.3, "strokeDash": [7, 5]},
         "encoding": {"y": {"field": "value", "type": "quantitative", "title": "Delta vegetation carbon(g C/m²)", "scale": {"domain": [-2.2, 2.2], "nice": false, "zero": false}, "axis": {"values": [-2, -1, 0, 1, 2], "format": "d"}}}},
        {"data": {"name": "hl"}, "transform": [{"filter": "datum.kind === 'red'"}],
         "mark": {"type": "rule", "color": "#B83A3A", "strokeWidth": 1.3, "strokeDash": [7, 4]},
         "encoding": {"y": {"field": "value", "type": "quantitative", "title": "Delta vegetation carbon(g C/m²)", "scale": {"domain": [-2.2, 2.2], "nice": false, "zero": false}, "axis": {"values": [-2, -1, 0, 1, 2], "format": "d"}}}},
        {"data": {"name": "hl"}, "transform": [{"filter": "datum.kind === 'black'"}],
         "mark": {"type": "rule", "color": "black", "strokeWidth": 2.4, "strokeDash": [10, 9]},
         "encoding": {"y": {"field": "value", "type": "quantitative", "title": "Delta vegetation carbon(g C/m²)", "scale": {"domain": [-2.2, 2.2], "nice": false, "zero": false}, "axis": {"values": [-2, -1, 0, 1, 2], "format": "d"}}}},
        {"data": {"name": "delta"}, "transform": [{"filter": "datum.panel === 'e'"}],
         "mark": {"type": "line", "color": "black", "strokeWidth": 2.3},
         "encoding": {
           "x": {"field": "year", "type": "quantitative", "title": null, "scale": {"domain": [334, 507], "nice": false, "zero": false}, "axis": {"values": [350, 400, 450, 500], "format": "d"}},
           "y": {"field": "value", "type": "quantitative", "title": "Delta vegetation carbon(g C/m²)", "scale": {"domain": [-2.2, 2.2], "nice": false, "zero": false}, "axis": {"values": [-2, -1, 0, 1, 2], "format": "d"}}
         }},
        {"data": {"name": "lab"}, "transform": [{"filter": "datum.panel === 'e'"}],
         "mark": {"type": "text", "fontSize": 29, "fontWeight": "bold", "color": "black", "align": "center", "baseline": "middle"},
         "encoding": {
           "x": {"field": "year", "type": "quantitative", "title": null, "scale": {"domain": [334, 507], "nice": false, "zero": false}, "axis": {"values": [350, 400, 450, 500], "format": "d"}},
           "y": {"field": "value", "type": "quantitative", "title": "Delta vegetation carbon(g C/m²)", "scale": {"domain": [-2.2, 2.2], "nice": false, "zero": false}, "axis": {"values": [-2, -1, 0, 1, 2], "format": "d"}},
           "text": {"field": "text"}
         }}
      ]
    },
    {
      "width": 275, "height": 286,
      "layer": [
        {"data": {"name": "hl"}, "transform": [{"filter": "datum.kind === 'grey'"}],
         "mark": {"type": "rule", "color": "#8c8c8c", "strokeWidth": 1.3, "strokeDash": [7, 5]},
         "encoding": {"y": {"field": "value", "type": "quantitative", "title": "Delta vegetation carbon(g C/m²)", "scale": {"domain": [-2.2, 2.2], "nice": false, "zero": false}, "axis": {"values": [-2, -1, 0, 1, 2], "format": "d"}}}},
        {"data": {"name": "hl"}, "transform": [{"filter": "datum.kind === 'red'"}],
         "mark": {"type": "rule", "color": "#B83A3A", "strokeWidth": 1.3, "strokeDash": [7, 4]},
         "encoding": {"y": {"field": "value", "type": "quantitative", "title": "Delta vegetation carbon(g C/m²)", "scale": {"domain": [-2.2, 2.2], "nice": false, "zero": false}, "axis": {"values": [-2, -1, 0, 1, 2], "format": "d"}}}},
        {"data": {"name": "hl"}, "transform": [{"filter": "datum.kind === 'black'"}],
         "mark": {"type": "rule", "color": "black", "strokeWidth": 2.4, "strokeDash": [10, 9]},
         "encoding": {"y": {"field": "value", "type": "quantitative", "title": "Delta vegetation carbon(g C/m²)", "scale": {"domain": [-2.2, 2.2], "nice": false, "zero": false}, "axis": {"values": [-2, -1, 0, 1, 2], "format": "d"}}}},
        {"data": {"name": "delta"}, "transform": [{"filter": "datum.panel === 'f'"}],
         "mark": {"type": "line", "color": "black", "strokeWidth": 2.3},
         "encoding": {
           "x": {"field": "year", "type": "quantitative", "title": null, "scale": {"domain": [820, 4985], "nice": false, "zero": false}, "axis": {"values": [1000, 2000, 3000, 4000], "format": "d"}},
           "y": {"field": "value", "type": "quantitative", "title": "Delta vegetation carbon(g C/m²)", "scale": {"domain": [-2.2, 2.2], "nice": false, "zero": false}, "axis": {"values": [-2, -1, 0, 1, 2], "format": "d"}}
         }},
        {"data": {"name": "lab"}, "transform": [{"filter": "datum.panel === 'f'"}],
         "mark": {"type": "text", "fontSize": 29, "fontWeight": "normal", "color": "black", "align": "center", "baseline": "middle"},
         "encoding": {
           "x": {"field": "year", "type": "quantitative", "title": null, "scale": {"domain": [820, 4985], "nice": false, "zero": false}, "axis": {"values": [1000, 2000, 3000, 4000], "format": "d"}},
           "y": {"field": "value", "type": "quantitative", "title": "Delta vegetation carbon(g C/m²)", "scale": {"domain": [-2.2, 2.2], "nice": false, "zero": false}, "axis": {"values": [-2, -1, 0, 1, 2], "format": "d"}},
           "text": {"field": "text"}
         }}
      ]
    },
    {
      "width": 275, "height": 286,
      "layer": [
        {"data": {"name": "sim"}, "transform": [{"filter": "datum.pool === 'soil' && datum.run === 'SASU'"}],
         "mark": {"type": "line", "strokeWidth": 2.5, "interpolate": "monotone"},
         "encoding": {
           "x": {"field": "year", "type": "quantitative", "title": "Simulate years", "scale": {"domain": [-240, 5040], "nice": false, "zero": false}, "axis": {"values": [0, 1000, 2000, 3000, 4000, 5000], "format": "d"}},
           "y": {"field": "value", "type": "quantitative", "title": "Total soil carbon(kg C/m²)", "scale": {"domain": [0.79, 7.64], "nice": false, "zero": false}, "axis": {"values": [2, 4, 6], "format": "d", "titlePadding": 24}},
           "color": {"field": "run", "type": "nominal", "scale": {"domain": ["ND(AD)", "SASU"], "range": ["#E23D28", "#145FBE"]}, "legend": null}
         }},
        {"data": {"name": "sim"}, "transform": [{"filter": "datum.pool === 'soil' && datum.run === 'ND(AD)'"}],
         "mark": {"type": "line", "strokeWidth": 2.5, "interpolate": "monotone"},
         "encoding": {
           "x": {"field": "year", "type": "quantitative", "title": "Simulate years", "scale": {"domain": [-240, 5040], "nice": false, "zero": false}, "axis": {"values": [0, 1000, 2000, 3000, 4000, 5000], "format": "d"}},
           "y": {"field": "value", "type": "quantitative", "title": "Total soil carbon(kg C/m²)", "scale": {"domain": [0.79, 7.64], "nice": false, "zero": false}, "axis": {"values": [2, 4, 6], "format": "d", "titlePadding": 24}},
           "color": {"field": "run", "type": "nominal", "scale": {"domain": ["ND(AD)", "SASU"], "range": ["#E23D28", "#145FBE"]}, "legend": null}
         }},
        {"data": {"name": "ss"}, "transform": [{"filter": "datum.pool === 'soil'"}],
         "mark": {"type": "rule", "color": "black", "strokeWidth": 1.6, "strokeDash": [6, 5]},
         "encoding": {
           "x": {"field": "year", "type": "quantitative", "title": "Simulate years", "scale": {"domain": [-240, 5040], "nice": false, "zero": false}, "axis": {"values": [0, 1000, 2000, 3000, 4000, 5000], "format": "d"}},
           "x2": {"field": "year2"},
           "y": {"field": "value", "type": "quantitative", "title": "Total soil carbon(kg C/m²)", "scale": {"domain": [0.79, 7.64], "nice": false, "zero": false}, "axis": {"values": [2, 4, 6], "format": "d", "titlePadding": 24}}
         }},
        {"data": {"name": "spin"}, "transform": [{"filter": "datum.pool === 'soil'"}],
         "mark": {"type": "point", "shape": "circle", "filled": true, "size": 75, "color": "#4A7DD6", "opacity": 1},
         "encoding": {
           "x": {"field": "year", "type": "quantitative", "title": "Simulate years", "scale": {"domain": [-240, 5040], "nice": false, "zero": false}, "axis": {"values": [0, 1000, 2000, 3000, 4000, 5000], "format": "d"}},
           "y": {"field": "value", "type": "quantitative", "title": "Total soil carbon(kg C/m²)", "scale": {"domain": [0.79, 7.64], "nice": false, "zero": false}, "axis": {"values": [2, 4, 6], "format": "d", "titlePadding": 24}}
         }},
        {"data": {"name": "lab"}, "transform": [{"filter": "datum.panel === 'g'"}],
         "mark": {"type": "text", "fontSize": 29, "fontWeight": "normal", "color": "black", "align": "center", "baseline": "middle"},
         "encoding": {
           "x": {"field": "year", "type": "quantitative", "title": "Simulate years", "scale": {"domain": [-240, 5040], "nice": false, "zero": false}, "axis": {"values": [0, 1000, 2000, 3000, 4000, 5000], "format": "d"}},
           "y": {"field": "value", "type": "quantitative", "title": "Total soil carbon(kg C/m²)", "scale": {"domain": [0.79, 7.64], "nice": false, "zero": false}, "axis": {"values": [2, 4, 6], "format": "d", "titlePadding": 24}},
           "text": {"field": "text"}
         }}
      ]
    },
    {
      "width": 272, "height": 286,
      "layer": [
        {"data": {"name": "hl"}, "transform": [{"filter": "datum.kind === 'grey'"}],
         "mark": {"type": "rule", "color": "#8c8c8c", "strokeWidth": 1.3, "strokeDash": [7, 5]},
         "encoding": {"y": {"field": "value", "type": "quantitative", "title": "Delta soil carbon(g C/m²)", "scale": {"domain": [-2.2, 2.2], "nice": false, "zero": false}, "axis": {"values": [-2, -1, 0, 1, 2], "format": "d"}}}},
        {"data": {"name": "hl"}, "transform": [{"filter": "datum.kind === 'red'"}],
         "mark": {"type": "rule", "color": "#B83A3A", "strokeWidth": 1.3, "strokeDash": [7, 4]},
         "encoding": {"y": {"field": "value", "type": "quantitative", "title": "Delta soil carbon(g C/m²)", "scale": {"domain": [-2.2, 2.2], "nice": false, "zero": false}, "axis": {"values": [-2, -1, 0, 1, 2], "format": "d"}}}},
        {"data": {"name": "hl"}, "transform": [{"filter": "datum.kind === 'black'"}],
         "mark": {"type": "rule", "color": "black", "strokeWidth": 2.4, "strokeDash": [10, 9]},
         "encoding": {"y": {"field": "value", "type": "quantitative", "title": "Delta soil carbon(g C/m²)", "scale": {"domain": [-2.2, 2.2], "nice": false, "zero": false}, "axis": {"values": [-2, -1, 0, 1, 2], "format": "d"}}}},
        {"data": {"name": "delta"}, "transform": [{"filter": "datum.panel === 'h'"}],
         "mark": {"type": "line", "color": "black", "strokeWidth": 2.3},
         "encoding": {
           "x": {"field": "year", "type": "quantitative", "title": "Simulate years", "scale": {"domain": [334, 507], "nice": false, "zero": false}, "axis": {"values": [350, 400, 450, 500], "format": "d"}},
           "y": {"field": "value", "type": "quantitative", "title": "Delta soil carbon(g C/m²)", "scale": {"domain": [-2.2, 2.2], "nice": false, "zero": false}, "axis": {"values": [-2, -1, 0, 1, 2], "format": "d"}}
         }},
        {"data": {"name": "lab"}, "transform": [{"filter": "datum.panel === 'h'"}],
         "mark": {"type": "text", "fontSize": 29, "fontWeight": "bold", "color": "black", "align": "center", "baseline": "middle"},
         "encoding": {
           "x": {"field": "year", "type": "quantitative", "title": "Simulate years", "scale": {"domain": [334, 507], "nice": false, "zero": false}, "axis": {"values": [350, 400, 450, 500], "format": "d"}},
           "y": {"field": "value", "type": "quantitative", "title": "Delta soil carbon(g C/m²)", "scale": {"domain": [-2.2, 2.2], "nice": false, "zero": false}, "axis": {"values": [-2, -1, 0, 1, 2], "format": "d"}},
           "text": {"field": "text"}
         }}
      ]
    },
    {
      "width": 275, "height": 286,
      "layer": [
        {"data": {"name": "hl"}, "transform": [{"filter": "datum.kind === 'grey'"}],
         "mark": {"type": "rule", "color": "#8c8c8c", "strokeWidth": 1.3, "strokeDash": [7, 5]},
         "encoding": {"y": {"field": "value", "type": "quantitative", "title": "Delta soil carbon(g C/m²)", "scale": {"domain": [-2.2, 2.2], "nice": false, "zero": false}, "axis": {"values": [-2, -1, 0, 1, 2], "format": "d"}}}},
        {"data": {"name": "hl"}, "transform": [{"filter": "datum.kind === 'red'"}],
         "mark": {"type": "rule", "color": "#B83A3A", "strokeWidth": 1.3, "strokeDash": [7, 4]},
         "encoding": {"y": {"field": "value", "type": "quantitative", "title": "Delta soil carbon(g C/m²)", "scale": {"domain": [-2.2, 2.2], "nice": false, "zero": false}, "axis": {"values": [-2, -1, 0, 1, 2], "format": "d"}}}},
        {"data": {"name": "hl"}, "transform": [{"filter": "datum.kind === 'black'"}],
         "mark": {"type": "rule", "color": "black", "strokeWidth": 2.4, "strokeDash": [10, 9]},
         "encoding": {"y": {"field": "value", "type": "quantitative", "title": "Delta soil carbon(g C/m²)", "scale": {"domain": [-2.2, 2.2], "nice": false, "zero": false}, "axis": {"values": [-2, -1, 0, 1, 2], "format": "d"}}}},
        {"data": {"name": "delta"}, "transform": [{"filter": "datum.panel === 'i'"}],
         "mark": {"type": "line", "color": "black", "strokeWidth": 2.3, "interpolate": "monotone"},
         "encoding": {
           "x": {"field": "year", "type": "quantitative", "title": "Simulate years", "scale": {"domain": [820, 4985], "nice": false, "zero": false}, "axis": {"values": [1000, 2000, 3000, 4000], "format": "d"}},
           "y": {"field": "value", "type": "quantitative", "title": "Delta soil carbon(g C/m²)", "scale": {"domain": [-2.2, 2.2], "nice": false, "zero": false}, "axis": {"values": [-2, -1, 0, 1, 2], "format": "d"}}
         }},
        {"data": {"name": "lab"}, "transform": [{"filter": "datum.panel === 'i'"}],
         "mark": {"type": "text", "fontSize": 29, "fontWeight": "normal", "color": "black", "align": "center", "baseline": "middle"},
         "encoding": {
           "x": {"field": "year", "type": "quantitative", "title": "Simulate years", "scale": {"domain": [820, 4985], "nice": false, "zero": false}, "axis": {"values": [1000, 2000, 3000, 4000], "format": "d"}},
           "y": {"field": "value", "type": "quantitative", "title": "Delta soil carbon(g C/m²)", "scale": {"domain": [-2.2, 2.2], "nice": false, "zero": false}, "axis": {"values": [-2, -1, 0, 1, 2], "format": "d"}},
           "text": {"field": "text"}
         }}
      ]
    }
  ],
  "config": {
    "font": "Liberation Sans",
    "view": {"stroke": "black", "strokeWidth": 3},
    "axis": {
      "grid": false, "domain": false, "ticks": true,
      "tickColor": "#333333", "tickWidth": 3, "tickSize": 5,
      "labelFontSize": 21, "labelColor": "black", "labelPadding": 4,
      "labelOverlap": false, "labelFlush": false,
      "titleFontSize": 21, "titleFontWeight": "normal", "titleColor": "black", "titlePadding": 10
    },
    "axisX": {"titleFontSize": 23, "titlePadding": 3, "labelPadding": 3},
    "title": {"fontSize": 33, "fontWeight": "normal", "color": "black", "offset": -20, "frame": "group", "anchor": "middle"}
  }
}
